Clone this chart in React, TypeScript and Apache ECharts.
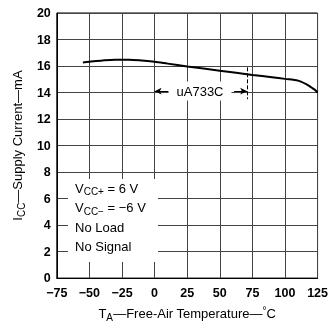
import React, { useEffect, useRef } from "react";
import * as echarts from "echarts";

const temps = [-55, -50, -40, -30, -25, -20, -10, 0, 10, 25, 50, 75, 90, 100, 110, 117, 120, 123, 125];
const icc = [16.27, 16.32, 16.42, 16.47, 16.48, 16.47, 16.42, 16.32, 16.18, 15.97, 15.65, 15.33, 15.15, 15.03, 14.9, 14.6, 14.4, 14.2, 14.0];
const rangeStart = 0;
const rangeEnd = 71;
const rangeLabel = "uA733C";
const conditions = ["V_CC+ = 6 V", "V_CC− = −6 V", "No Load", "No Signal"];

const FONT = "'Liberation Sans', Arial, Helvetica, sans-serif";

export default function App() {
  const ref = useRef<HTMLDivElement>(null);
  useEffect(() => {
    if (!ref.current) return;
    const chart = echarts.init(ref.current, null, { renderer: "svg" });
    const minus = (v: number) => String(v).replace("-", "−");
    const condRich = (s: string) => {
      const m = s.match(/^V_(CC[+−])(.*)$/);
      if (m) return `{a|V}{s|${m[1]}}{a|${m[2]}}`;
      return `{a|${s}}`;
    };
    const richBase = {
      a: { fontSize: 13, fontFamily: FONT, color: "#000", lineHeight: 16 },
      s: { fontSize: 10, fontFamily: FONT, color: "#000", lineHeight: 16, padding: [7, 0, 0, 0] },
    };
    chart.setOption({
      animation: false,
      textStyle: { fontFamily: FONT },
      grid: { left: 48, right: 10, top: 13, bottom: 44, show: true, borderColor: "#000", borderWidth: 1, backgroundColor: "#fff" },
      xAxis: {
        type: "value",
        min: -75,
        max: 125,
        interval: 25,
        axisLine: { show: true, onZero: false, lineStyle: { color: "#000", width: 1 } },
        axisTick: { show: false },
        axisLabel: { color: "#000", fontSize: 12.5, fontWeight: "bold", margin: 8, formatter: (v: number) => minus(v) },
        splitLine: { show: true, lineStyle: { color: "#444", width: 1 } },
        name: "{a|T}{s|A}{a|—Free-Air Temperature—}{u|°}{a|C}",
        nameLocation: "middle",
        nameGap: 25,
        nameTextStyle: {
          rich: {
            a: { fontSize: 13, fontFamily: FONT, color: "#000", lineHeight: 18 },
            s: { fontSize: 10, fontFamily: FONT, color: "#000", lineHeight: 18, padding: [8, 0, 0, 0] },
            u: { fontSize: 10, fontFamily: FONT, color: "#000", lineHeight: 18, padding: [0, 0, 6, 0] },
          },
        },
      },
      yAxis: {
        type: "value",
        min: 0,
        max: 20,
        interval: 2,
        axisLine: { show: true, onZero: false, lineStyle: { color: "#000", width: 1 } },
        axisTick: { show: false },
        axisLabel: { color: "#000", fontSize: 12.5, fontWeight: "bold", margin: 6 },
        splitLine: { show: true, lineStyle: { color: "#444", width: 1 } },
        name: "{a|I}{s|CC}{a|—Supply Current—mA}",
        nameLocation: "middle",
        nameGap: 24,
        nameTextStyle: {
          rich: {
            a: { fontSize: 13, fontFamily: FONT, color: "#000", lineHeight: 18 },
            s: { fontSize: 10, fontFamily: FONT, color: "#000", lineHeight: 18, padding: [8, 0, 0, 0] },
          },
        },
      },
      series: [
        {
          type: "line",
          data: temps.map((t, i) => [t, icc[i]]),
          smooth: 0.3,
          showSymbol: false,
          lineStyle: { color: "#000", width: 2 },
          z: 5,
          markLine: {
            silent: true,
            animation: false,
            label: { show: false },
            lineStyle: { color: "#000", width: 1, type: "solid" },
            symbolSize: [5, 7],
            data: [
              [
                { coord: [rangeStart + 11, 14.1], symbol: "none" },
                { coord: [rangeStart, 14.1], symbol: "arrow" },
              ],
              [
                { coord: [rangeEnd - 10, 14.1], symbol: "none" },
                { coord: [rangeEnd, 14.1], symbol: "arrow" },
              ],
              [
                { coord: [rangeEnd, 15.9], symbol: "none", lineStyle: { type: [4, 2], color: "#000", width: 1 } },
                { coord: [rangeEnd, 13.5], symbol: "none" },
              ],
            ],
          },
        },
      ],
      graphic: [
        {
          type: "text",
          z: 20,
          x: 200,
          y: 91,
          style: {
            text: rangeLabel,
            font: `13px ${FONT}`,
            fill: "#000",
            align: "center",
            verticalAlign: "middle",
            backgroundColor: "#fff",
            padding: [3, 8, 3, 8],
          },
        },
        {
          type: "rect",
          z: 20,
          shape: { x: 68, y: 179, width: 90, height: 83 },
          style: { fill: "#fff" },
        },
        ...conditions.map((c, i) => ({
          type: "text",
          z: 21,
          x: 75,
          y: 188 + i * 19.5,
          style: {
            text: condRich(c),
            rich: richBase,
            verticalAlign: "middle",
            align: "left",
          },
        })),
      ],
    });
    return () => chart.dispose();
  }, []);
  return <div ref={ref} style={{ position: "fixed", left: 0, top: 0, width: 331, height: 327 }} />;
}
